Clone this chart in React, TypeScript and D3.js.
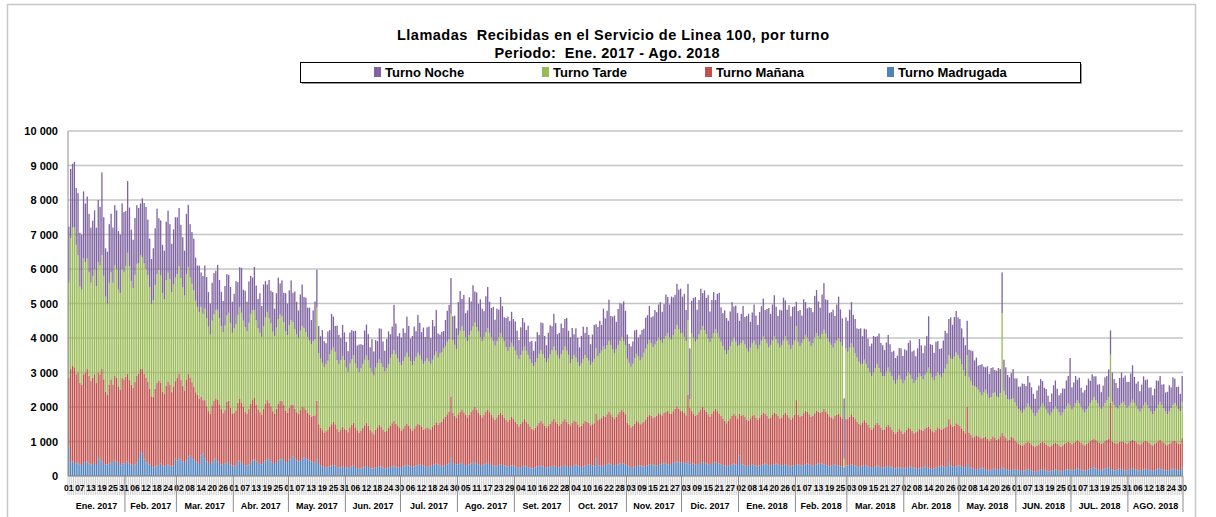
import React from 'react';
import * as d3 from 'd3';

// months shown on the category axis (Ene. 2017 .. Ago. 2018, daily bars)
const monthLabels = ['Ene. 2017', 'Feb. 2017', 'Mar. 2017', 'Abr. 2017', 'May. 2017', 'Jun. 2017', 'Jul. 2017', 'Ago. 2017', 'Set. 2017', 'Oct. 2017', 'Nov. 2017', 'Dic. 2017', 'Ene. 2018', 'Feb. 2018', 'Mar. 2018', 'Abr. 2018', 'May. 2018', 'JUN. 2018', 'JUL. 2018', 'AGO. 2018'];
const monthDays = [31, 28, 31, 30, 31, 30, 31, 31, 30, 31, 30, 31, 31, 28, 31, 30, 31, 30, 31, 30];

const yTicks = [0, 1000, 2000, 3000, 4000, 5000, 6000, 7000, 8000, 9000, 10000];

// Turno Madrugada
const madrugada = [
  850,400,420,380,360,400,330,320,380,400, 420,360,330,350,380,320,550,480,420,380, 340,330,360,400,380,450,420,380,300,360, 370,
  380,420,360,340,300,330,400,520,700,650, 480,400,380,330,290,250,280,300,320,360, 300,280,320,340,300,280,300,500,
  450,520,480,420,380,450,560,600,520,480, 430,400,350,600,650,500,420,380,350,400, 480,500,420,380,340,320,360,400,380,330, 300,
  280,300,420,450,380,350,320,300,340,400, 450,480,420,380,350,330,400,450,500,480, 420,380,350,400,450,480,520,460,400,380,
  480,520,560,500,450,420,460,500,540,520, 480,450,420,400,380,480,350,300,280,260, 250,240,280,300,320,300,260,240,250,280, 260,
  240,220,260,280,300,260,230,210,220,250, 270,290,260,230,220,210,240,260,280,270, 250,230,220,240,260,280,300,270,250,240,
  260,280,300,320,300,280,260,280,300,320, 340,320,300,280,260,280,300,320,340,360, 330,300,280,300,320,340,360,500,380,350, 330,
  340,360,380,350,320,300,330,360,380,400, 370,340,320,300,330,360,380,350,320,300, 280,300,320,340,320,300,280,270,290,310, 300,
  280,260,240,260,280,300,280,260,240,220, 230,250,270,290,300,280,260,240,250,270, 290,300,280,260,250,270,290,300,280,260,
  270,290,310,330,300,280,260,280,300,320, 340,320,300,280,500,320,300,280,300,320, 340,360,340,320,300,320,340,360,380,360, 340,
  300,280,260,250,270,290,310,300,280,270, 290,310,330,350,330,310,300,320,340,360, 380,360,340,320,350,380,400,420,400,380,
  400,380,360,420,330,380,360,340,320,350, 380,400,380,360,340,320,350,380,400,380, 360,340,320,300,280,300,320,340,360,340, 320,
  600,350,330,310,290,300,320,340,320,300, 280,300,320,340,360,340,320,300,320,340, 360,340,320,300,320,340,320,300,280,300, 320,
  350,330,310,300,320,340,360,340,320,300, 320,340,360,380,360,340,320,300,280,300, 320,340,320,300,280,270,250,300,
  300,320,340,320,300,280,260,280,300,320, 300,280,260,240,260,280,300,280,260,240, 250,270,290,270,250,230,220,240,260,250, 230,
  220,240,260,280,260,240,220,200,220,240, 260,280,260,240,220,200,220,240,260,280, 300,280,260,240,400,300,280,260,280,300,
  300,280,260,240,350,260,240,220,200,180, 200,220,240,220,200,180,160,180,200,220, 200,180,200,250,220,200,180,160,180,200, 180,
  180,160,150,140,160,180,200,180,160,140, 120,140,160,180,200,180,160,140,130,150, 170,190,170,150,130,150,170,190,200,180,
  160,180,200,220,200,180,160,150,170,190, 210,230,250,220,200,180,170,190,210,230, 250,200,180,160,170,190,210,200,180,160, 150,
  180,200,220,200,180,160,150,170,190,210, 200,180,160,150,170,190,210,230,200,180, 160,150,170,190,210,200,180,160,170,250,
];

// Turno Mañana
const manana = [
  2000,2700,2780,2770,2590,2600,2370,2330,2570,2600, 2680,2540,2420,2500,2570,2380,2450,2470,2680,2420, 2110,2020,2290,2400,2270,2450,2430,2220,2200,2490, 2430,
  2500,2550,2420,2300,2250,2400,2500,2450,2400,2450, 2480,2450,2350,2200,2000,2050,2250,2400,2450,2350, 2150,2100,2300,2400,2350,2150,2300,2250,
  2400,2450,2300,2200,2100,2350,2400,2250,2200,2100, 2000,1950,1900,1700,1550,1700,1600,1500,1450,1650, 1700,1750,1800,1700,1600,1500,1550,1750,1800,1650, 1500,
  1550,1600,1700,1800,1750,1650,1550,1500,1600,1700, 1750,1780,1650,1550,1500,1450,1550,1650,1700,1650, 1600,1500,1450,1550,1650,1700,1650,1600,1500,1450,
  1500,1550,1500,1450,1400,1380,1450,1500,1450,1400, 1350,1330,1300,1350,1380,1700,1150,1100,1050,1000, 1050,1100,1150,1200,1250,1200,1100,1050,1100,1150, 1100,
  1100,1050,1150,1200,1250,1150,1100,1050,1100,1150, 1200,1250,1200,1100,1050,1000,1100,1150,1200,1150, 1100,1050,1100,1150,1200,1250,1300,1250,1200,1150,
  1050,1100,1150,1200,1150,1100,1050,1100,1150,1200, 1150,1100,1050,1100,1150,1100,1050,1100,1150,1200, 1150,1250,1300,1350,1400,1450,1500,1800,1450,1400, 1350,
  1450,1500,1550,1500,1450,1400,1450,1500,1550,1600, 1550,1500,1450,1400,1450,1500,1550,1500,1450,1400, 1350,1400,1450,1500,1450,1400,1350,1300,1350,1400, 1350,
  1300,1250,1200,1250,1300,1350,1300,1250,1200,1150, 1100,1150,1200,1250,1300,1250,1200,1150,1200,1250, 1300,1350,1300,1250,1200,1250,1300,1350,1300,1250,
  1200,1250,1300,1250,1200,1150,1200,1250,1300,1250, 1200,1150,1200,1250,1300,1300,1350,1400,1450,1400, 1450,1500,1450,1400,1350,1400,1450,1500,1550,1500, 1450,
  1250,1200,1150,1200,1250,1300,1250,1200,1250,1300, 1350,1400,1450,1400,1350,1400,1450,1500,1450,1400, 1450,1500,1550,1500,1450,1500,1550,1600,1550,1500,
  1500,1450,1400,1940,1650,1500,1450,1400,1450,1500, 1550,1600,1550,1500,1450,1400,1450,1500,1550,1500, 1450,1400,1350,1300,1250,1300,1350,1400,1450,1400, 1350,
  1200,1400,1450,1400,1350,1300,1350,1400,1450,1400, 1350,1400,1450,1500,1450,1400,1350,1400,1450,1500, 1450,1400,1350,1400,1450,1500,1450,1400,1350,1400, 1450,
  1850,1450,1400,1450,1500,1550,1500,1450,1400,1450, 1500,1550,1500,1450,1500,1600,1550,1500,1450,1400, 1350,1400,1450,1500,1450,1400,0,1350,
  1350,1400,1450,1400,1350,1300,1250,1200,1250,1300, 1250,1200,1150,1100,1150,1200,1250,1200,1150,1100, 1100,1150,1200,1150,1100,1050,1000,1050,1100,1050, 1000,
  1050,1100,1150,1100,1050,1000,1050,1100,1150,1100, 1050,1100,1150,1200,1150,1100,1050,1100,1150,1100, 1050,1100,1150,1200,1250,1200,1150,1200,1250,1200,
  1150,1100,1050,1000,1650,1000,950,900,950,1000, 950,900,850,900,950,900,850,900,950,900, 850,900,950,1000,950,900,850,900,950,900, 850,
  800,780,760,740,760,780,800,780,760,740, 720,740,760,780,800,780,760,740,720,740, 760,780,760,740,720,740,760,780,800,780,
  760,780,800,820,800,780,760,740,760,780, 800,820,840,820,800,780,760,780,800,820, 840,1920,820,800,780,760,780,800,820,800, 780,
  800,820,840,820,800,780,760,780,800,820, 800,780,760,740,760,780,800,820,800,780, 760,740,760,780,800,820,800,780,760,850,
];

// Turno Tarde
const tarde = [
  2750,3800,4000,4050,3750,3400,2800,2750,3350,3200, 3200,3000,2850,2950,3050,2800,3200,3150,3300,3000, 2750,2650,2950,3100,2950,3200,3150,2800,2800,3150, 3100,
  3200,3500,3300,3000,2900,3100,3250,3200,3300,3250, 3200,3150,3100,2950,2700,2800,3000,3150,3200,3100, 2850,2750,3050,3150,3050,2900,2950,3000,
  3000,3100,2950,2850,2750,3050,3100,2900,2850,2800, 2650,2550,2500,2600,2500,2650,2550,2450,2300,2450, 2500,2550,2600,2500,2400,2350,2450,2500,2550,2450, 2350,
  2450,2500,2550,2650,2600,2500,2450,2400,2500,2600, 2600,2550,2450,2350,2300,2250,2400,2500,2550,2450, 2400,2300,2250,2350,2450,2500,2450,2400,2300,2250,
  2400,2450,2400,2300,2250,2200,2300,2350,2300,2250, 2200,2150,2100,2150,2200,2700,2050,2000,1950,1900, 1950,2000,2100,2150,2150,2100,2000,1950,2000,2050, 2000,
  1800,1750,1850,1900,1950,1850,1800,1750,1800,1850, 1900,1950,1900,1800,1750,1700,1800,1850,1900,1850, 1800,1750,1800,1850,1950,2000,2050,2000,1950,1900,
  1900,1950,2000,2050,2000,1950,1900,1950,2000,2050, 2000,1950,1900,1950,2000,1950,1900,1950,2000,2050, 1950,2000,2000,2050,2050,2100,2100,2400,2100,2050, 2000,
  2300,2350,2400,2350,2250,2200,2300,2350,2400,2450, 2400,2350,2250,2200,2250,2300,2350,2300,2250,2200, 2150,2200,2250,2300,2250,2200,2100,2050,2100,2150, 2100,
  2050,2000,1950,2000,2050,2100,2050,2000,1950,1900, 1850,1900,1950,2000,2050,2000,1950,1900,1950,2000, 2050,2100,2050,2000,1950,2000,2050,2100,2050,2000,
  1800,1850,1900,1850,1800,1750,1800,1850,1900,1850, 1800,1750,1800,1850,1900,1850,1900,1950,2000,1950, 2000,2050,2000,1950,1900,1950,2000,2050,2100,2050, 2000,
  1850,1800,1750,1800,1900,1950,1900,1850,1900,2000, 2050,2100,2150,2100,2050,2100,2150,2200,2150,2100, 2150,2200,2250,2200,2150,2200,2300,2350,2300,2250,
  2250,2200,2150,2160,240,2250,2200,2150,2200,2250, 2300,2350,2300,2250,2200,2150,2200,2250,2300,2250, 2200,2150,2100,2050,2000,2050,2100,2150,2200,2150, 2100,
  2000,2100,2150,2100,2050,2000,2050,2100,2150,2100, 2050,2100,2150,2200,2150,2100,2050,2100,2150,2200, 2150,2100,2050,2100,2150,2200,2150,2100,2050,2100, 2150,
  2150,2100,2050,2100,2150,2200,2150,2100,2050,2100, 2200,2250,2200,2150,2250,2300,2250,2200,2150,2100, 2050,2100,2150,2200,2150,2100,250,2050,
  1950,2000,2050,2000,1900,1850,1800,1750,1700,1750, 1700,1650,1600,1550,1600,1650,1700,1650,1600,1550, 1550,1600,1650,1600,1550,1500,1450,1500,1550,1500, 1450,
  1500,1550,1600,1550,1500,1450,1500,1550,1600,1550, 1500,1550,1600,1700,1600,1550,1500,1550,1600,1550, 1500,1600,1700,1800,1850,1900,1950,2000,2050,2000,
  1950,1850,1750,1650,1500,1600,1550,1500,1450,1400, 1350,1300,1250,1300,1350,1300,1250,1200,1250,1300, 1250,1200,1250,3475,1300,1250,1200,1150,1100,1150, 1100,
  1050,1000,980,950,1000,1050,1100,1050,1000,950, 900,950,1000,1050,1100,1050,1000,950,900,950, 1000,1050,1000,950,900,950,1000,1050,1100,1080,
  1000,1050,1100,1150,1100,1050,1000,950,1000,1050, 1100,1150,1200,1150,1100,1050,1000,1050,1100,1150, 1200,1400,1150,1100,1050,1000,1050,1100,1150,1100, 1050,
  1050,1100,1150,1100,1050,1000,950,1000,1050,1100, 1050,1000,950,900,950,1000,1050,1100,1050,1000, 950,900,950,1000,1050,1100,1050,1000,950,1050,
];

// Turno Noche
const noche = [
  1630,2000,1850,1900,1650,1800,1550,1600,1950,1700, 1800,1700,1600,1600,1700,1700,1800,1700,2400,1700, 1400,1500,1700,1700,1600,1750,1700,1700,1700,1900, 1750,
  1600,2080,1700,1500,1400,1650,1700,1600,1500,1700, 1750,1800,1600,1400,1300,1500,1650,1900,1500,1600, 1400,1400,1700,1800,1600,1400,1600,1750,
  1650,1700,1550,1450,1300,1750,1800,1550,1500,1500, 1250,1200,1350,1000,1100,1250,1200,1000,900,1100, 1200,1150,1300,1100,1000,900,1150,1200,1100,1050, 900,
  1000,1250,950,1150,1300,900,1050,850,1200,1100, 950,1250,1000,850,1150,900,1200,1050,800,1100, 950,1150,800,1000,1200,900,1050,850,1100,920,
  1000,1150,850,1100,950,800,1050,1200,900,1000, 850,950,700,900,1100,1100,800,650,950,750, 600,850,700,1050,900,750,1000,850,650,900, 800,
  750,600,900,850,700,950,650,800,700,550, 850,900,750,600,950,700,800,650,900,1000, 750,600,850,950,700,800,1310,900,650,850,
  800,950,700,1050,900,650,850,1000,750,1100, 950,800,1050,700,900,1000,750,1150,850,1200, 700,550,600,500,750,900,1000,1040,700,850, 600,
  950,1150,800,1050,700,900,1100,850,1200,900, 1000,800,1100,950,750,1050,1200,900,850,1000, 750,950,800,1050,900,700,850,1000,750,900, 800,
  850,700,550,800,950,700,600,850,500,650, 450,600,750,550,800,900,650,500,750,850, 700,950,800,600,750,900,650,800,950,700,
  750,900,600,850,700,550,800,950,650,900, 750,600,800,1000,700,850,950,750,1100,900, 1000,1200,850,950,1100,800,1050,1100,950,1150, 1000,
  700,550,600,650,800,700,550,750,800,700, 900,850,1000,750,900,1000,850,950,1100,900, 1000,1200,1050,950,1250,1100,1000,1200,1150,1300,
  1050,1250,900,1050,1480,950,1150,1300,850,1000, 1200,950,1150,1050,1250,900,1100,1200,850,1150, 1300,1000,950,1150,1050,850,1000,1150,900,1050, 950,
  700,850,1000,800,950,1100,750,900,1050,850, 700,950,1000,1100,850,1000,1150,900,1050,1200, 950,800,1100,1000,1250,1050,900,1150,950,1100, 1000,
  700,900,1050,800,1150,950,850,1000,1100,900, 1200,1250,1000,900,1150,1350,1000,1100,850,950, 1100,800,1050,1200,950,800,1750,900,
  900,1100,1200,950,1000,850,950,1050,800,900, 1000,850,750,950,1050,900,800,1000,850,900, 750,850,950,800,700,850,750,700,800,900, 800,
  900,750,850,1000,800,950,700,850,1000,900, 750,850,1050,1490,850,950,800,1000,900,750, 850,950,1100,900,1050,1200,1000,1150,1200,1100,
  1150,1050,950,900,1000,800,900,1000,750,850, 700,800,900,750,650,800,700,850,750,650, 750,850,700,1175,900,800,700,650,750,850, 700,
  800,650,700,850,750,600,800,700,650,550, 500,650,700,800,650,550,600,500,400,550, 700,750,600,500,650,700,600,750,800,1380,
  650,700,800,600,750,550,500,650,700,800, 650,750,600,700,550,650,500,600,750,700, 800,700,850,750,700,600,800,900,700,850, 750,
  700,850,1000,750,650,800,600,700,850,650, 750,600,700,550,650,800,700,750,600,700, 550,650,750,600,800,700,550,650,500,750,
];

const seriesKeys = ['madrugada', 'manana', 'tarde', 'noche'];
const seriesColors = { madrugada: '#4F81BD', manana: '#C0504D', tarde: '#9BBB59', noche: '#8064A2' };
const legendItems = [
  { key: 'noche', label: 'Turno Noche', x: 374 },
  { key: 'tarde', label: 'Turno Tarde', x: 542 },
  { key: 'manana', label: 'Turno Mañana', x: 705 },
  { key: 'madrugada', label: 'Turno Madrugada', x: 887 },
];

const FONT = '"Liberation Sans", Arial, sans-serif';

const App = () => {
  const left = 68;
  const right = 1183;
  const top = 131;
  const bottom = 476;

  // one category per day
  const days = [];
  monthDays.forEach((n, m) => {
    for (let d = 1; d <= n; d++) days.push({ m, day: d });
  });
  const n = Math.min(days.length, madrugada.length, manana.length, tarde.length, noche.length);

  const rows = d3.range(n).map(i => ({
    i,
    madrugada: madrugada[i],
    manana: manana[i],
    tarde: tarde[i],
    noche: noche[i],
  }));
  const stacked = d3.stack().keys(seriesKeys)(rows);

  const x = d3.scaleBand().domain(d3.range(days.length)).range([left, right]).paddingInner(0.28).paddingOuter(0.1);
  const step = x.step();
  const y = d3.scaleLinear().domain([0, 10000]).range([bottom, top]);

  // month boundaries on the axis
  const monthStarts = [];
  let acc = 0;
  monthDays.forEach(nd => { monthStarts.push(acc); acc += nd; });
  const edge = i => left + (i / days.length) * (right - left);

  return (
    <svg width={1216} height={517} style={{ position: 'absolute', left: 0, top: 0, background: '#fff' }} fontFamily={FONT}>
      <rect x={0} y={0} width={1216} height={517} fill="#fff" />
      <rect x={7.5} y={4.5} width={1188} height={530} fill="none" stroke="#c8c8c8" strokeWidth={1.5} />

      <text x={613} y={40} textAnchor="middle" fontSize={14.5} fontWeight="bold" textLength={432} lengthAdjust="spacing" style={{ whiteSpace: 'pre' }}>{'Llamadas  Recibidas en el Servicio de Linea 100, por turno'}</text>
      <text x={607} y={58} textAnchor="middle" fontSize={14.5} fontWeight="bold" textLength={225} lengthAdjust="spacing" style={{ whiteSpace: 'pre' }}>{'Periodo:  Ene. 2017 - Ago. 2018'}</text>

      <rect x={302} y={64} width={780} height={20} fill="#9a9a9a" />
      <rect x={300.5} y={62.5} width={780} height={20} fill="#fff" stroke="#000" strokeWidth={1} />
      {legendItems.map(l => (
        <g key={l.key}>
          <rect x={l.x} y={67} width={7} height={10} fill={seriesColors[l.key]} />
          <text x={l.x + 11} y={77} fontSize={13} fontWeight="bold">{l.label}</text>
        </g>
      ))}

      {yTicks.map(t => (
        <g key={t}>
          <line x1={left} x2={right} y1={y(t)} y2={y(t)} stroke="#c4c4c4" strokeWidth={1.4} />
          <text x={58} y={y(t) + 4} textAnchor="end" fontSize={11} fontWeight="bold">{d3.format(',')(t).replace(/,/g, ' ')}</text>
        </g>
      ))}

      {stacked.map(layer => (
        <g key={layer.key} fill={seriesColors[layer.key]}>
          {layer.map((d, i) => (
            <rect key={i} x={x(i)} y={y(d[1])} width={x.bandwidth()} height={Math.max(0, y(d[0]) - y(d[1]))} />
          ))}
        </g>
      ))}

      <line x1={left} x2={left} y1={top} y2={bottom} stroke="#8c8c8c" strokeWidth={1} />
      <line x1={left} x2={right} y1={bottom} y2={bottom} stroke="#8c8c8c" strokeWidth={1} />

      {days.map((d, i) => (
        <line key={i} x1={left + i * step} x2={left + i * step} y1={bottom} y2={495} stroke="#b4b4b4" strokeWidth={0.6} />
      ))}
      {days.map((d, i) => (i % 6 === 0 ? (
        <text key={i} x={x(i) + x.bandwidth() / 2} y={491} textAnchor="middle" fontSize={8.5} fontWeight="bold">{String(d.day).padStart(2, '0')}</text>
      ) : null))}

      {monthStarts.map((s, m) => (
        <g key={m}>
          {m > 0 && <line x1={edge(s)} x2={edge(s)} y1={bottom} y2={512} stroke="#8c8c8c" strokeWidth={1} />}
          <text x={edge(s + monthDays[m] / 2)} y={509} textAnchor="middle" fontSize={9} fontWeight="bold">{monthLabels[m]}</text>
        </g>
      ))}
      <line x1={right} x2={right} y1={bottom} y2={512} stroke="#8c8c8c" strokeWidth={1} />
    </svg>
  );
};

export default App;
